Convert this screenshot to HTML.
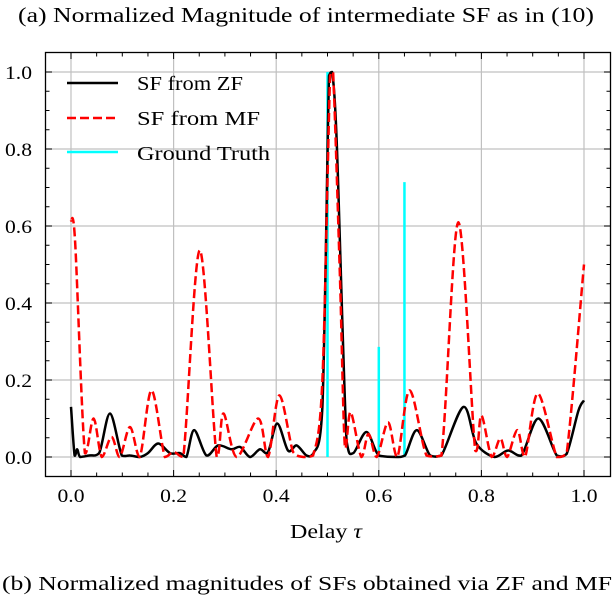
<!DOCTYPE html>
<html><head><meta charset="utf-8"><style>
body{margin:0;background:#fff;}
svg text{font-family:"Liberation Serif",serif;fill:#000;}
</style></head><body>
<svg id="chart" width="614" height="596" viewBox="0 0 614 596" xmlns="http://www.w3.org/2000/svg">
<text x="18" y="22" font-size="21" textLength="576" lengthAdjust="spacingAndGlyphs">(a) Normalized Magnitude of intermediate SF as in (10)</text>
<g id="grid"></g>
<g id="series"></g>
<rect x="45.5" y="52.5" width="565" height="424" fill="none" stroke="#000" stroke-width="1.3"/>
<g id="ticks"></g>
<text x="290" y="538" font-size="20" textLength="72" lengthAdjust="spacingAndGlyphs">Delay <tspan font-style="italic">τ</tspan></text>
<text x="2" y="590" font-size="20" textLength="610" lengthAdjust="spacingAndGlyphs">(b) Normalized magnitudes of SFs obtained via ZF and MF</text>
<g>
<line x1="67" y1="83" x2="118" y2="83" stroke="#000" stroke-width="2.5"/>
<text x="137" y="90" font-size="20" textLength="106" lengthAdjust="spacingAndGlyphs">SF from ZF</text>
<line x1="67" y1="118" x2="118" y2="118" stroke="#f00" stroke-width="2.5" stroke-dasharray="9,4"/>
<text x="137" y="125" font-size="20" textLength="123" lengthAdjust="spacingAndGlyphs">SF from MF</text>
<line x1="67" y1="152" x2="118" y2="152" stroke="#0ff" stroke-width="2.5"/>
<text x="137" y="160" font-size="20" textLength="133" lengthAdjust="spacingAndGlyphs">Ground Truth</text>
</g>
</svg>
<script>
const xTicks=[0,0.2,0.4,0.6,0.8,1.0];
const xTickLabels=["0.0","0.2","0.4","0.6","0.8","1.0"];
const yTicks=[0,0.2,0.4,0.6,0.8,1.0];
const yTickLabels=["0.0","0.2","0.4","0.6","0.8","1.0"];
const zfTau=[0,0.007,0.012,0.018,0.035,0.055,0.076,0.099,0.115,0.134,0.15,0.17,0.193,0.212,0.225,0.24,0.264,0.287,0.313,0.33,0.349,0.368,0.384,0.402,0.423,0.44,0.459,0.472,0.49,0.503,0.509,0.518,0.537,0.55,0.576,0.6,0.635,0.651,0.674,0.7,0.722,0.765,0.79,0.826,0.852,0.878,0.911,0.947,0.966,0.989,1.0];
const zfVal=[0.13,0.004,0.02,0.0,0.004,0.01,0.113,0.004,0.004,0.0,0.01,0.035,0.01,0.01,0.0,0.07,0.004,0.03,0.02,0.026,0.0,0.02,0.013,0.087,0.017,0.03,0.004,0.008,0.13,0.99,1.0,0.82,0.043,0.01,0.065,0.004,0.0,0.004,0.07,0.004,0.004,0.13,0.035,0.0,0.017,0.004,0.1,0.004,0.008,0.12,0.147];
const mfTau=[0,0.008,0.027,0.044,0.06,0.079,0.095,0.115,0.134,0.157,0.183,0.2,0.219,0.251,0.284,0.297,0.323,0.365,0.384,0.406,0.433,0.453,0.472,0.49,0.505,0.511,0.524,0.534,0.545,0.566,0.58,0.596,0.618,0.636,0.66,0.693,0.722,0.755,0.788,0.8,0.82,0.837,0.85,0.87,0.885,0.91,0.947,0.966,1.0];
const mfVal=[0.615,0.56,0.01,0.1,0.0,0.052,0.0,0.078,0.0,0.173,0.0,0.013,0.0,0.537,0.0,0.113,0.0,0.1,0.0,0.16,0.013,0.0,0.004,0.2,0.99,1.0,0.48,0.026,0.117,0.0,0.06,0.0,0.09,0.0,0.173,0.004,0.004,0.61,0.017,0.108,0.0,0.048,0.0,0.07,0.0,0.165,0.0,0.008,0.5];
const gtTau=[0.5,0.6,0.65];
const gtVal=[1.0,0.286,0.714];

const X=v=>71+v*513;
const Y=v=>457-v*385;
const NS='http://www.w3.org/2000/svg';
function mk(tag,attrs,parent){const e=document.createElementNS(NS,tag);for(const k in attrs)e.setAttribute(k,attrs[k]);parent.appendChild(e);return e;}
const grid=document.getElementById('grid'),ticks=document.getElementById('ticks'),series=document.getElementById('series');
xTicks.forEach((t,i)=>{
  const g=mk('line',{x1:X(t),x2:X(t),y1:52,y2:477,stroke:'#c0c0c0','stroke-width':1.2},grid);
  
  
  const l=mk('text',{x:X(t)-13.5,y:502,'font-size':19,textLength:27,lengthAdjust:'spacingAndGlyphs'},ticks);
  l.textContent=xTickLabels[i];
  
  
});
yTicks.forEach((t,i)=>{
  const g=mk('line',{x1:45,x2:611,y1:Y(t),y2:Y(t),stroke:'#c0c0c0','stroke-width':1.2},grid);
  
  
  const l=mk('text',{x:5,y:Y(t)+7,'font-size':19,textLength:27,lengthAdjust:'spacingAndGlyphs'},ticks);
  l.textContent=yTickLabels[i];
  
  
});
for(let k=0;k<=20;k++){
  const v=k*0.05,len=(k%4===0)?6:3.5;
  mk('line',{x1:X(v),x2:X(v),y1:476,y2:476-len,stroke:'#000','stroke-width':1},ticks);
  mk('line',{x1:X(v),x2:X(v),y1:53,y2:53+len,stroke:'#000','stroke-width':1},ticks);
  const yy=Y(v);
  mk('line',{x1:46,x2:46+len,y1:yy,y2:yy,stroke:'#000','stroke-width':1},ticks);
  mk('line',{x1:610,x2:610-len,y1:yy,y2:yy,stroke:'#000','stroke-width':1},ticks);
}
function clampY(y){return Math.max(Y(1),Math.min(Y(0),y));}
function smooth(xs,ys){
  const p=xs.map((x,i)=>[X(x),Y(ys[i])]);
  let d='M'+p[0][0].toFixed(1)+','+p[0][1].toFixed(1);
  for(let i=0;i<p.length-1;i++){
    const p0=p[Math.max(0,i-1)],p1=p[i],p2=p[i+1],p3=p[Math.min(p.length-1,i+2)];
    const t=0.16;
    const c1=[p1[0]+(p2[0]-p0[0])*t,clampY(p1[1]+(p2[1]-p0[1])*t)];
    const c2=[p2[0]-(p3[0]-p1[0])*t,clampY(p2[1]-(p3[1]-p1[1])*t)];
    c1[0]=Math.min(Math.max(c1[0],p1[0]),p2[0]);c2[0]=Math.min(Math.max(c2[0],p1[0]),p2[0]);
    d+=' C'+c1.map(v=>v.toFixed(1)).join(',')+' '+c2.map(v=>v.toFixed(1)).join(',')+' '+p2[0].toFixed(1)+','+p2[1].toFixed(1);
  }
  return d;
}
gtTau.forEach((t,i)=>{
  const l=mk('line',{x1:X(t),x2:X(t),y1:Y(0),y2:Y(gtVal[i]),stroke:'#0ff','stroke-width':2.5},series);
  
  
});
const zf=mk('path',{d:smooth(zfTau,zfVal),fill:'none',stroke:'#000','stroke-width':2.5,'stroke-linejoin':'round'},series);


const mf=mk('path',{d:smooth(mfTau,mfVal),fill:'none',stroke:'#f00','stroke-width':2.5,'stroke-dasharray':'9,4'},series);


</script>
</body></html>
